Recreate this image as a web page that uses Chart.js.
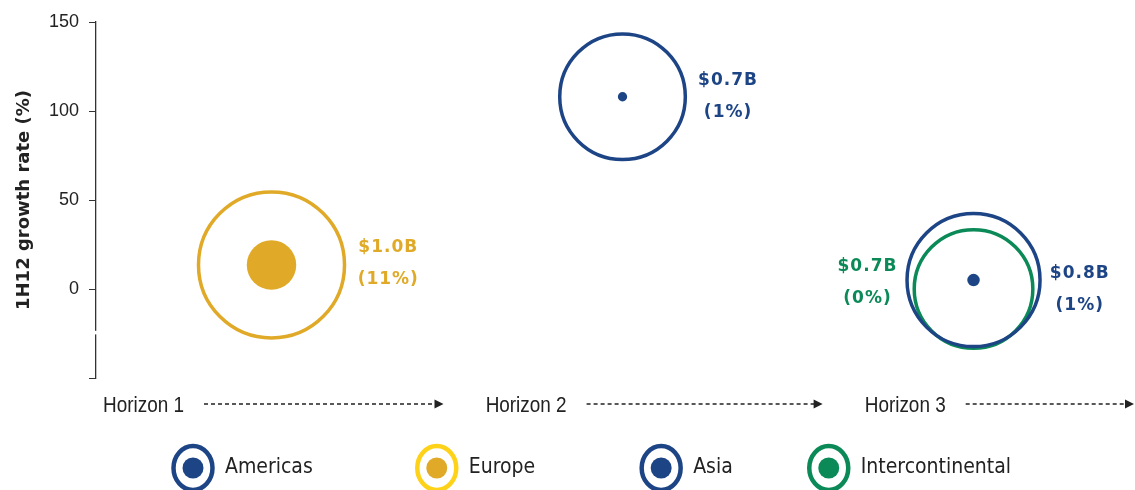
<!DOCTYPE html>
<html>
<head>
<meta charset="utf-8">
<script src="https://cdn.jsdelivr.net/npm/chart.js@4.4.1/dist/chart.umd.min.js"></script>
<style>
  html, body { margin: 0; padding: 0; background: #fff; }
  #wrap { width: 1135px; height: 490px; }
</style>
</head>
<body>
<div id="wrap"><canvas id="chart"></canvas></div>
<script>
const regions = ['Americas', 'Europe', 'Asia', 'Intercontinental'];
const horizons = ['Horizon 1', 'Horizon 2', 'Horizon 3'];
const regionHorizon = [3, 1, 2, 3];          // horizon each region sits in
const growthRate = [5, 13.5, 108, 0];        // 1H12 growth rate, %
const revenue = [0.83, 1.0, 0.74, 0.66];     // $B
const share = [1.4, 11, 0.9, 0];             // % of total
const yTicks = [-50, 0, 50, 100, 150];

const BLUE = '#1d4586';
const GOLD = '#e0aa28';
const GREEN = '#0b8a58';
const ringColors = [BLUE, GOLD, BLUE, GREEN];
const legendRingColors = [BLUE, '#ffd21a', BLUE, GREEN];

// ring area follows revenue, inner dot follows share
const ringRadius = v => 73 * Math.sqrt(v);
const dotRadius = p => 5 * Math.pow(p, 2 / 3);
const RING_WIDTH = 3.5;

const dotSets = regions.map((name, i) => ({
  label: name + ' share',
  data: [{x: regionHorizon[i], y: growthRate[i], r: dotRadius(share[i])}],
  backgroundColor: ringColors[i],
  borderWidth: 0,
  clip: false
}));

const ringSets = regions.map((name, i) => ({
  label: name,
  data: [{x: regionHorizon[i], y: growthRate[i], r: ringRadius(revenue[i])}],
  backgroundColor: 'rgba(0,0,0,0)',
  borderColor: ringColors[i],
  borderWidth: RING_WIDTH,
  clip: false
}));

// value labels beside each ring: side, gap from ring edge, vertical nudge
const labelPlacement = [
  {side: 1, gap: 38, dy: 9},
  {side: 1, gap: 42, dy: -1.5},
  {side: 1, gap: 41, dy: 0},
  {side: -1, gap: 45, dy: -6.5}
];

const bubbleLabels = {
  id: 'bubbleLabels',
  afterDatasetsDraw(chart) {
    const ctx = chart.ctx;
    ctx.save();
    ctx.font = 'bold 17px "DejaVu Sans"';
    ctx.letterSpacing = '1px';
    ctx.textAlign = 'center';
    ctx.textBaseline = 'middle';
    regions.forEach((name, i) => {
      const pt = chart.getDatasetMeta(dotSets.length + i).data[0];
      const place = labelPlacement[i];
      const edge = ringRadius(revenue[i]) + RING_WIDTH / 2 + place.gap;
      const x = pt.x + place.side * edge;
      const mid = pt.y + place.dy;
      ctx.fillStyle = ringColors[i];
      ctx.fillText('$' + revenue[i].toFixed(1) + 'B', x, mid - 16);
      ctx.fillText('(' + share[i].toFixed(0) + '%)', x, mid + 16);
    });
    ctx.restore();
  }
};

// "Horizon n" captions with dashed arrows under the plot
const horizonAxis = {
  id: 'horizonAxis',
  afterDraw(chart) {
    const ctx = chart.ctx;
    const xs = chart.scales.x;
    const starts = [0.52, 1.61, 2.69];
    const squeeze = 0.86;   // narrow face
    const y = chart.chartArea.bottom + 34;
    ctx.save();
    ctx.font = '22px "Liberation Sans", sans-serif';
    ctx.fillStyle = '#222';
    ctx.strokeStyle = '#222';
    ctx.textBaseline = 'alphabetic';
    horizons.forEach((h, i) => {
      const x0 = xs.getPixelForValue(starts[i]);
      ctx.save();
      ctx.translate(x0, y);
      ctx.scale(squeeze, 1);
      ctx.fillText(h, 0, 0);
      ctx.restore();
      const lineStart = x0 + ctx.measureText(h).width * squeeze + 20;
      const lineEnd = i < horizons.length - 1
        ? xs.getPixelForValue(starts[i + 1] - 0.12)
        : chart.width - 1;
      const ly = y - 8;
      ctx.lineWidth = 1.3;
      ctx.setLineDash([4, 3]);
      ctx.beginPath();
      ctx.moveTo(lineStart, ly);
      ctx.lineTo(lineEnd - 8, ly);
      ctx.stroke();
      ctx.setLineDash([]);
      ctx.beginPath();
      ctx.moveTo(lineEnd - 9, ly - 4.5);
      ctx.lineTo(lineEnd, ly);
      ctx.lineTo(lineEnd - 9, ly + 4.5);
      ctx.closePath();
      ctx.fill();
    });
    ctx.restore();
  }
};

// small break in the y axis line below zero
const axisBreak = {
  id: 'axisBreak',
  afterDraw(chart) {
    const ys = chart.scales.y;
    const x = chart.chartArea.left;
    const top = ys.getPixelForValue(-23.5);
    const bottom = ys.getPixelForValue(-25.5);
    chart.ctx.save();
    chart.ctx.fillStyle = '#fff';
    chart.ctx.fillRect(x - 3, top, 6, bottom - top);
    chart.ctx.restore();
  }
};

// region legend with ring-and-dot markers
const regionLegend = {
  id: 'regionLegend',
  afterDraw(chart) {
    const ctx = chart.ctx;
    const cy = 468;
    const gaps = [102, 104, 74];
    let x = chart.chartArea.left + 75;
    ctx.save();
    ctx.font = '21px "DejaVu Sans Condensed", "DejaVu Sans", sans-serif';
    ctx.textBaseline = 'middle';
    regions.forEach((name, i) => {
      const mx = x + 22;
      ctx.lineWidth = 4.5;
      ctx.strokeStyle = legendRingColors[i];
      ctx.beginPath();
      ctx.ellipse(mx, cy, 19.5, 22, 0, 0, Math.PI * 2);
      ctx.stroke();
      ctx.fillStyle = ringColors[i];
      ctx.beginPath();
      ctx.arc(mx, cy, 10.5, 0, Math.PI * 2);
      ctx.fill();
      ctx.fillStyle = '#222';
      ctx.fillText(name, x + 54, cy);
      x += 54 + ctx.measureText(name).width + (gaps[i] || 0);
    });
    ctx.restore();
  }
};

new Chart(document.getElementById('chart'), {
  type: 'bubble',
  data: {datasets: [...dotSets, ...ringSets]},
  plugins: [bubbleLabels, horizonAxis, axisBreak, regionLegend],
  options: {
    responsive: true,
    maintainAspectRatio: false,
    devicePixelRatio: 1,
    animation: false,
    events: [],
    layout: {autoPadding: false, padding: {top: 22, bottom: 112, left: 0, right: 0}},
    plugins: {
      legend: {display: false},
      tooltip: {enabled: false}
    },
    scales: {
      x: {
        type: 'linear',
        display: false,
        min: 0.5,
        max: 3.46
      },
      y: {
        min: yTicks[0],
        max: yTicks[yTicks.length - 1],
        afterBuildTicks: s => { s.ticks = yTicks.map(v => ({value: v})); },
        afterFit: s => { s.width = 96; },
        ticks: {
          padding: 10,
          color: '#222',
          font: {family: '"Liberation Sans", sans-serif', size: 18},
          callback: v => (v < 0 ? '' : v)
        },
        grid: {
          drawOnChartArea: false,
          drawTicks: true,
          tickLength: 7,
          color: '#333'
        },
        border: {display: true, color: '#333', width: 1.3},
        title: {
          display: true,
          text: '1H12 growth rate (%)',
          color: '#222',
          padding: {top: 14, bottom: 0},
          font: {family: '"DejaVu Sans", sans-serif', size: 18, weight: 'bold'}
        }
      }
    }
  }
});
</script>
</body>
</html>
